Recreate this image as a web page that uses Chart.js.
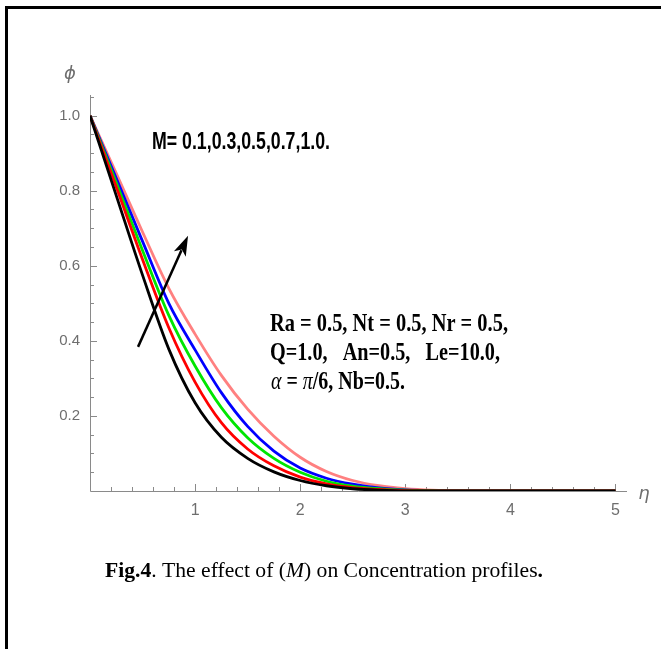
<!DOCTYPE html>
<html>
<head>
<meta charset="utf-8">
<script src="https://cdn.jsdelivr.net/npm/chart.js@4"></script>
<style>
  html, body { margin: 0; padding: 0; background: #fff; }
  canvas { display: block; }
</style>
</head>
<body>
<canvas id="grafica" width="661" height="649"></canvas>
<script>
// eta values (x axis)
const eta = [0, 0.25, 0.5, 0.75, 1, 1.25, 1.5, 1.75, 2, 2.25, 2.5, 2.75, 3, 3.25, 3.5, 3.75, 4, 4.25, 4.5, 4.75, 5];
// concentration profiles phi(eta), one per M value
const phiM01 = [1, 0.787, 0.575, 0.378, 0.235, 0.143, 0.087, 0.051, 0.028, 0.014, 0.006, 0.002, 0, 0, 0, 0, 0, 0, 0, 0, 0];
const phiM03 = [1, 0.81, 0.617, 0.435, 0.29, 0.182, 0.112, 0.067, 0.037, 0.019, 0.009, 0.004, 0.001, 0, 0, 0, 0, 0, 0, 0, 0];
const phiM05 = [1, 0.821, 0.641, 0.468, 0.333, 0.222, 0.142, 0.087, 0.05, 0.026, 0.013, 0.006, 0.002, 0.001, 0, 0, 0, 0, 0, 0, 0];
const phiM07 = [1, 0.833, 0.665, 0.5, 0.376, 0.262, 0.172, 0.106, 0.061, 0.034, 0.018, 0.008, 0.003, 0.001, 0, 0, 0, 0, 0, 0, 0];
const phiM10 = [1, 0.846, 0.69, 0.54, 0.418, 0.308, 0.218, 0.146, 0.09, 0.052, 0.028, 0.014, 0.006, 0.002, 0.001, 0, 0, 0, 0, 0, 0];
const series = [phiM01, phiM03, phiM05, phiM07, phiM10];
const colores = ['#000000', '#ff0000', '#00e600', '#0000ff', '#ff8080'];

const xTicks = [1, 2, 3, 4, 5];
const xTickLabels = ['1', '2', '3', '4', '5'];
const yTicks = [0.2, 0.4, 0.6, 0.8, 1.0];
const yTickLabels = ['0.2', '0.4', '0.6', '0.8', '1.0'];

const GRIS = '#6e6e6e';

// draw a row of text runs squeezed to a given width
function runs(ctx, partes, x, y, ancho) {
  let total = 0;
  partes.forEach(p => { ctx.font = p[1]; total += ctx.measureText(p[0]).width; });
  ctx.save();
  ctx.translate(x, y);
  ctx.scale(ancho / total, 1);
  let cx = 0;
  partes.forEach(p => {
    ctx.font = p[1];
    ctx.fillText(p[0], cx, 0);
    cx += ctx.measureText(p[0]).width;
  });
  ctx.restore();
}

const ejes = {
  id: 'ejes',
  beforeDatasetsDraw(chart) {
    const ctx = chart.ctx;
    const xs = chart.scales.x, ys = chart.scales.y;
    const a = chart.chartArea;
    ctx.save();
    ctx.strokeStyle = '#8a8a8a';
    ctx.lineWidth = 1;
    ctx.beginPath();
    ctx.moveTo(a.left + 0.5, a.top);
    ctx.lineTo(a.left + 0.5, a.bottom + 0.5);
    ctx.lineTo(a.right, a.bottom + 0.5);
    // inward ticks on x
    for (let i = 1; i <= 25; i++) {
      const v = i * 0.2;
      const px = Math.round(xs.getPixelForValue(v)) + 0.5;
      const len = (i % 5 === 0) ? 7 : 4;
      ctx.moveTo(px, a.bottom);
      ctx.lineTo(px, a.bottom - len);
    }
    // inward ticks on y
    for (let i = 1; i <= 21; i++) {
      const v = i * 0.05;
      const py = Math.round(ys.getPixelForValue(v)) + 0.5;
      const len = (i % 4 === 0) ? 7 : 4;
      ctx.moveTo(a.left, py);
      ctx.lineTo(a.left + len, py);
    }
    ctx.stroke();
    ctx.restore();
  },
  afterDatasetsDraw(chart) {
    const ctx = chart.ctx;
    const xs = chart.scales.x, ys = chart.scales.y;
    ctx.save();
    // axis names
    ctx.fillStyle = GRIS;
    ctx.textAlign = 'center';
    ctx.textBaseline = 'middle';
    ctx.font = 'italic 18px "DejaVu Sans"';
    ctx.fillText('\u03D5', 70, 74);
    ctx.fillText('\u03B7', 644, 494);

    // arrow
    const x0 = xs.getPixelForValue(0.457), y0 = ys.getPixelForValue(0.384);
    const x1 = xs.getPixelForValue(0.933), y1 = ys.getPixelForValue(0.68);
    const ang = Math.atan2(y1 - y0, x1 - x0);
    const hl = 20, hw = 6.5;
    const bx = x1 - hl * Math.cos(ang), by = y1 - hl * Math.sin(ang);
    ctx.strokeStyle = '#000';
    ctx.fillStyle = '#000';
    ctx.lineWidth = 2.5;
    ctx.beginPath();
    ctx.moveTo(x0, y0);
    ctx.lineTo(bx + 4 * Math.cos(ang), by + 4 * Math.sin(ang));
    ctx.stroke();
    ctx.beginPath();
    ctx.moveTo(x1, y1);
    ctx.lineTo(bx - hw * Math.sin(ang), by + hw * Math.cos(ang));
    ctx.lineTo(bx + 5 * Math.cos(ang), by + 5 * Math.sin(ang));
    ctx.lineTo(bx + hw * Math.sin(ang), by - hw * Math.cos(ang));
    ctx.closePath();
    ctx.fill();

    // annotations
    ctx.textAlign = 'left';
    ctx.textBaseline = 'alphabetic';
    ctx.fillStyle = '#000';
    runs(ctx, [['M= 0.1,0.3,0.5,0.7,1.0.', 'bold 23px "Liberation Sans"']], 152, 149, 178);
    const sb = 'bold 25px "Liberation Serif"';
    const si = 'italic 25px "Liberation Serif"';
    runs(ctx, [['Ra = 0.5, Nt = 0.5, Nr = 0.5,', sb]], 270, 331, 238);
    runs(ctx, [['Q=1.0,   An=0.5,   Le=10.0,', sb]], 270, 360, 230);
    runs(ctx, [['\u03B1', si], [' = ', sb], ['\u03C0', si], ['/6, Nb=0.5.', sb]], 271, 389, 134);

    // caption
    const cr = '21px "Liberation Serif"';
    runs(ctx, [['Fig.4', 'bold ' + cr], ['. The effect of (', cr], ['M', 'italic ' + cr],
               [') on Concentration profiles', cr], ['.', 'bold ' + cr]], 105, 577, 438);

    // frame
    ctx.strokeStyle = '#000';
    ctx.lineWidth = 3;
    ctx.beginPath();
    ctx.moveTo(6.5, 649);
    ctx.lineTo(6.5, 7.5);
    ctx.lineTo(661, 7.5);
    ctx.stroke();
    ctx.restore();
  }
};

const ctx = document.getElementById('grafica').getContext('2d');
const grafica = new Chart(ctx, {
  type: 'line',
  data: {
    datasets: series.map((s, i) => ({
      data: eta.map((e, j) => ({ x: e, y: s[j] })),
      borderColor: colores[i],
      borderWidth: 2.8,
      pointRadius: 0,
      cubicInterpolationMode: 'monotone',
      fill: false
    }))
  },
  options: {
    responsive: false,
    animation: false,
    devicePixelRatio: 1,
    layout: { padding: { left: 40, top: 95, right: 34, bottom: 128 } },
    plugins: { legend: { display: false }, tooltip: { enabled: false }, title: { display: false } },
    scales: {
      x: {
        type: 'linear', min: 0, max: 5.11,
        grid: { display: false, drawTicks: false },
        border: { display: false },
        afterBuildTicks: (s) => { s.ticks = xTicks.map(v => ({ value: v })); },
        afterFit: (s) => { s.height = 30; },
        ticks: {
          color: GRIS, padding: 10, maxRotation: 0,
          font: { family: '"Liberation Sans"', size: 16 },
          callback: (v) => xTickLabels[xTicks.indexOf(v)]
        }
      },
      y: {
        type: 'linear', min: 0, max: 1.055,
        grid: { display: false, drawTicks: false },
        border: { display: false },
        afterBuildTicks: (s) => { s.ticks = yTicks.map(v => ({ value: v })); },
        afterFit: (s) => { s.width = 50; },
        ticks: {
          color: GRIS, padding: 10,
          font: { family: '"Liberation Sans"', size: 15 },
          callback: (v) => yTickLabels[yTicks.findIndex(t => Math.abs(t - v) < 1e-9)]
        }
      }
    }
  },
  plugins: [ejes]
});
</script>
</body>
</html>
